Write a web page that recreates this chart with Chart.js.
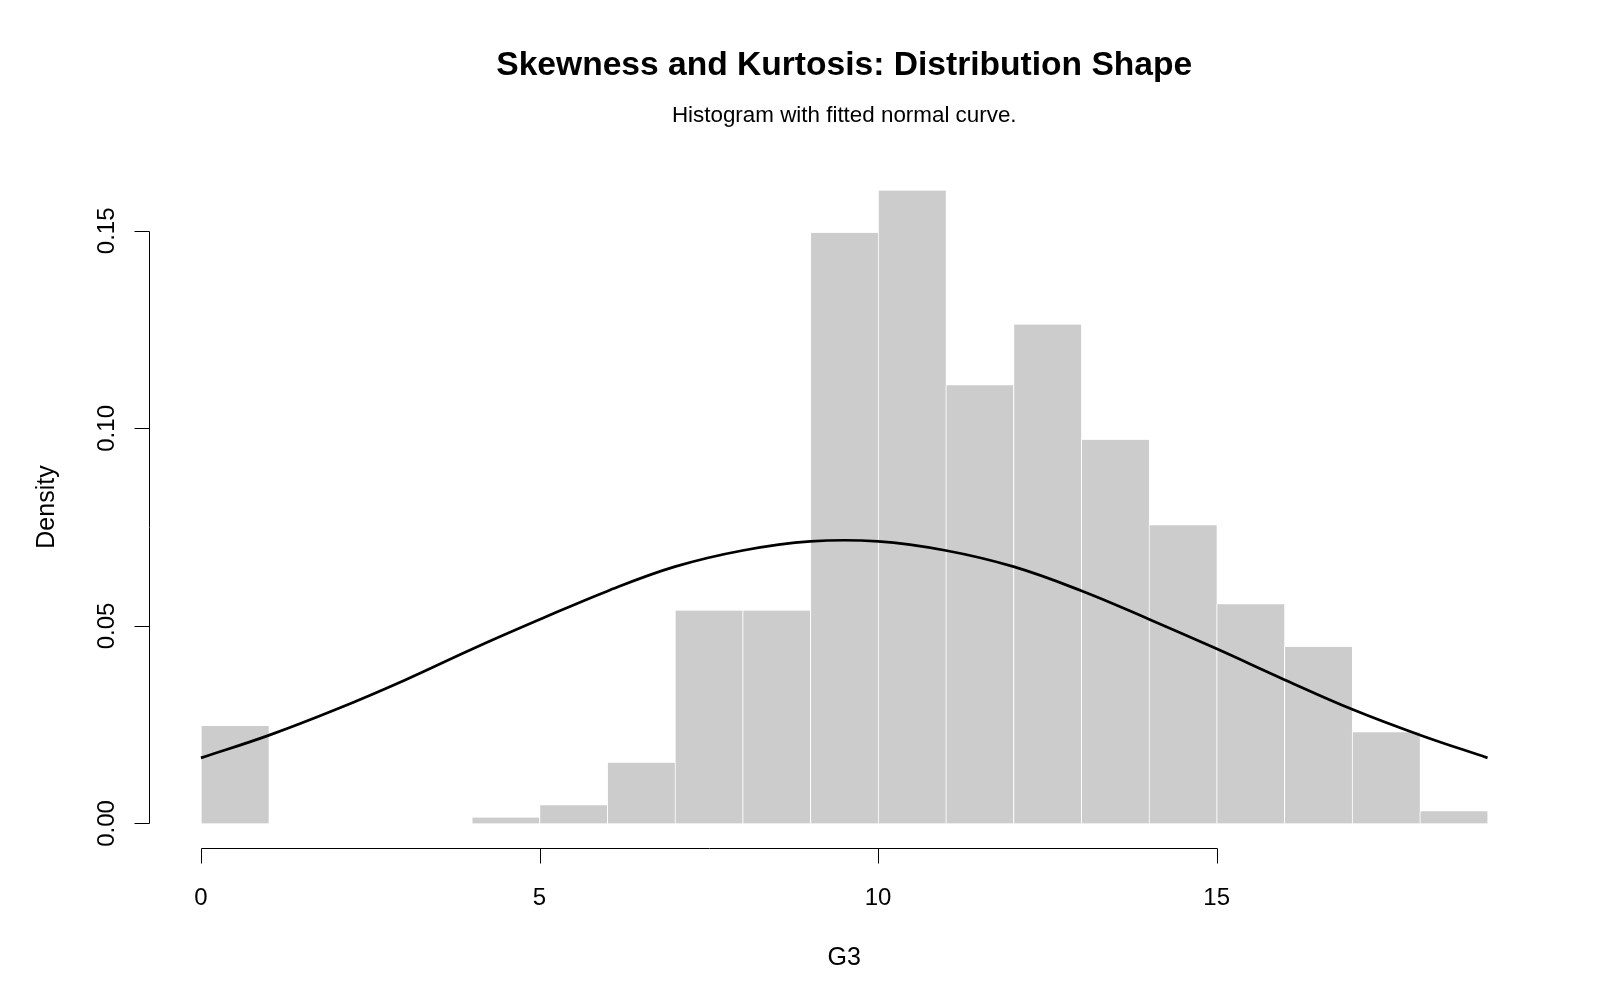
<!DOCTYPE html>
<html>
<head>
<meta charset="utf-8">
<script src="https://cdn.jsdelivr.net/npm/chart.js@4.4.1/dist/chart.umd.min.js"></script>
<style>
  html, body { margin: 0; padding: 0; background: #ffffff; }
  #wrap { width: 1600px; height: 1000px; }
</style>
</head>
<body>
<div id="wrap"><canvas id="c" width="1600" height="1000"></canvas></div>
<script>
// ---- data ----
const titleText = "Skewness and Kurtosis: Distribution Shape";
const subtitleText = "Histogram with fitted normal curve.";
const xTitle = "G3";
const yTitle = "Density";
const breaks = [0,1,2,3,4,5,6,7,8,9,10,11,12,13,14,15,16,17,18,19];
const densities = [0.0247,0,0,0,0.0015,0.0046,0.0154,0.0539,0.0539,0.1495,0.1602,0.1109,0.1263,0.0971,0.0755,0.0555,0.0447,0.0231,0.0031];
const curveX = [0,1,2,3,4,5,6,7,8,9,10,11,12,13,14,15,16,17,18,19];
const curveY = [0.0166,0.0223,0.0289,0.0362,0.0441,0.0516,0.0588,0.0650,0.0691,0.0714,0.0714,0.0691,0.0650,0.0589,0.0517,0.0442,0.0364,0.0289,0.0224,0.0166];
const xTicks = [0,5,10,15];
const xTickLabels = ["0","5","10","15"];
const yTicks = [0,0.05,0.10,0.15];
const yTickLabels = ["0.00","0.05","0.10","0.15"];

const FONT = '"Liberation Sans", Arial, Helvetica, sans-serif';
const barData = densities.map((d,i)=>({x:(breaks[i]+breaks[i+1])/2, y:d}));
const lineData = curveX.map((x,i)=>({x:x, y:curveY[i]}));
const xMin = breaks[0], xMax = breaks[breaks.length-1];
const xPad = (xMax - xMin) * 0.04;
const yTop = Math.max(...densities);

const axesPlugin = {
  id: 'rAxes',
  afterDraw(chart) {
    const ctx = chart.ctx;
    const xs = chart.scales.x, ys = chart.scales.y;
    const area = chart.chartArea;
    const tickLen = 15;
    ctx.save();
    ctx.strokeStyle = '#000';
    ctx.fillStyle = '#000';
    ctx.lineWidth = 1;
    // y axis
    const ax = Math.round(area.left) - 0.5;
    const y0 = ys.getPixelForValue(yTicks[0]);
    const y1 = ys.getPixelForValue(yTicks[yTicks.length-1]);
    ctx.beginPath();
    ctx.moveTo(ax, Math.round(y0)+0.5); ctx.lineTo(ax, Math.round(y1)+0.5);
    yTicks.forEach(v=>{
      const p = Math.round(ys.getPixelForValue(v)) + 0.5;
      ctx.moveTo(ax, p); ctx.lineTo(ax - tickLen, p);
    });
    // x axis
    const ay = Math.round(area.bottom) - 0.5;
    const x0 = xs.getPixelForValue(xTicks[0]);
    const x1 = xs.getPixelForValue(xTicks[xTicks.length-1]);
    ctx.moveTo(Math.round(x0)+0.5, ay); ctx.lineTo(Math.round(x1)+0.5, ay);
    xTicks.forEach(v=>{
      const p = Math.round(xs.getPixelForValue(v)) + 0.5;
      ctx.moveTo(p, ay); ctx.lineTo(p, ay + tickLen);
    });
    ctx.stroke();

    const fs = 24;
    ctx.font = fs + 'px ' + FONT;
    ctx.textAlign = 'center';
    ctx.textBaseline = 'alphabetic';
    // x tick labels
    xTicks.forEach((v,i)=>{
      ctx.fillText(xTickLabels[i], xs.getPixelForValue(v), 896 + 0.358*fs);
    });
    // y tick labels rotated
    yTicks.forEach((v,i)=>{
      ctx.save();
      ctx.translate(105 + 0.358*fs, ys.getPixelForValue(v));
      ctx.rotate(-Math.PI/2);
      ctx.fillText(yTickLabels[i], 0, 0);
      ctx.restore();
    });
    // axis titles
    const ts = 25;
    ctx.font = ts + 'px ' + FONT;
    ctx.fillText(xTitle, (area.left + area.right)/2, 956 + 0.358*ts);
    ctx.save();
    ctx.translate(45 + 0.358*ts, (area.top + area.bottom)/2);
    ctx.rotate(-Math.PI/2);
    ctx.fillText(yTitle, 0, 0);
    ctx.restore();
    ctx.restore();
  }
};

new Chart(document.getElementById('c'), {
  type: 'bar',
  data: {
    datasets: [
      {
        type: 'line',
        data: lineData,
        borderColor: '#000000',
        borderWidth: 2.7,
        pointRadius: 0,
        fill: false,
        tension: 0.4,
        order: 0
      },
      {
        type: 'bar',
        data: barData,
        backgroundColor: '#CCCCCC',
        borderColor: '#FFFFFF',
        borderWidth: {left: 1, right: 0, top: 0, bottom: 0},
        borderSkipped: false,
        barPercentage: 1.0,
        categoryPercentage: 1.0,
        order: 1
      }
    ]
  },
  options: {
    responsive: false,
    devicePixelRatio: 1,
    animation: false,
    layout: { padding: { left: 149.5, right: 61, top: 0, bottom: 151.2 } },
    scales: {
      x: { type: 'linear', display: false, offset: false, min: xMin - xPad, max: xMax + xPad, grid: { offset: false } },
      y: { type: 'linear', display: false, min: -0.04*yTop, max: 1.04*yTop }
    },
    plugins: {
      legend: { display: false },
      tooltip: { enabled: false },
      title: {
        display: true,
        text: titleText,
        color: '#000',
        font: { family: FONT, size: 33.6, weight: 'bold', lineHeight: 1.2 },
        padding: { top: 45.8, bottom: 0 }
      },
      subtitle: {
        display: true,
        text: subtitleText,
        color: '#000',
        font: { family: FONT, size: 22.4, weight: 'normal', lineHeight: 1.2 },
        padding: { top: 16.7, bottom: 35.5 }
      }
    }
  },
  plugins: [axesPlugin]
});
</script>
</body>
</html>
